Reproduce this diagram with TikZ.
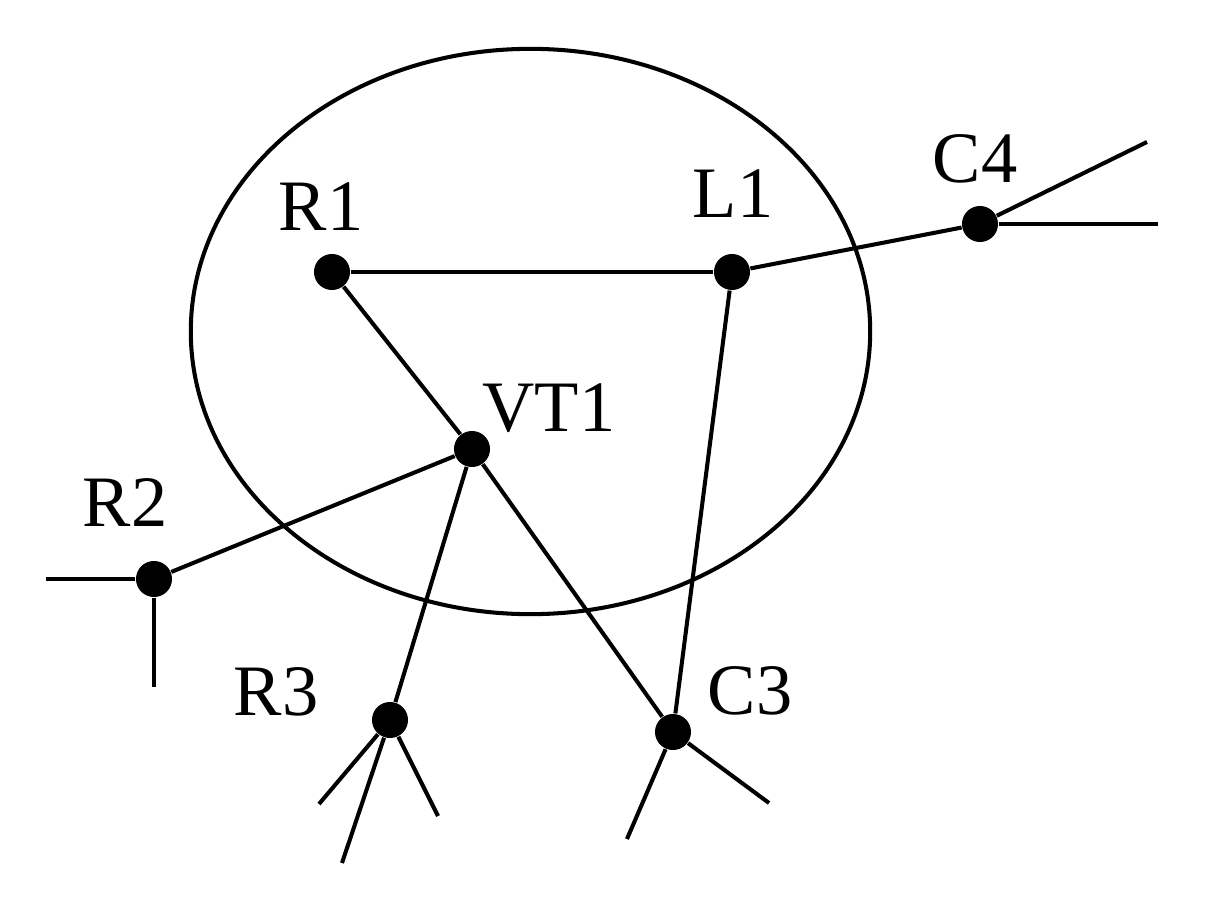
\documentclass[tikz,border=0pt]{standalone}
\usepackage{fontspec}
\setmainfont{Liberation Serif}
\begin{document}
\begin{tikzpicture}[x=0.01cm,y=-0.01cm,
        dot/.style={circle,fill=black,inner sep=0pt,minimum size=0.36cm},
        lab/.style={inner sep=0pt,font=\fontsize{20.6}{24}\selectfont},
        wire/.style={line width=1.15pt,black}]
        \useasboundingbox (0,0) rectangle (1205,909);

        % ring
        \draw[wire] (530.5,331.5) ellipse [x radius=3.395cm, y radius=2.825cm];

        % points
        \node[dot] (r1) at (332,272) {};
        \node[dot] (l1) at (732,272) {};
        \node[dot] (c4) at (980,224) {};
        \node[dot] (vt1) at (472,449) {};
        \node[dot] (r2) at (154,579) {};
        \node[dot] (r3) at (390,720) {};
        \node[dot] (c3) at (673,732) {};

        % labels
        \node[lab] (r1lab) at (321,207) {R1};
        \node[lab] (l1lab) at (733,194) {L1};
        \node[lab] (c4lab) at (975,159) {C4};
        \node[lab] (vt1lab) at (549,408) {VT1};
        \node[lab] (r2lab) at (125,503) {R2};
        \node[lab] (r3lab) at (276,692) {R3};
        \node[lab] (c3lab) at (750,691) {C3};

        % loose ends
        \coordinate (c4a) at (1147,142);
        \coordinate (c4b) at (1158,224);
        \coordinate (r2a) at (46,579);
        \coordinate (r2b) at (154,687);
        \coordinate (r3a) at (319,804);
        \coordinate (r3b) at (342,863);
        \coordinate (r3c) at (438,816);
        \coordinate (c3a) at (627,839);
        \coordinate (c3b) at (769,803);

        % links
        \draw[wire] (r1) -- (l1);
        \draw[wire] (r1) -- (vt1);
        \draw[wire] (l1) -- (c4);
        \draw[wire] (l1) -- (c3);
        \draw[wire] (vt1) -- (r2);
        \draw[wire] (vt1) -- (r3);
        \draw[wire] (vt1) -- (c3);
        \draw[wire] (c4) -- (c4a);
        \draw[wire] (c4) -- (c4b);
        \draw[wire] (r2) -- (r2a);
        \draw[wire] (r2) -- (r2b);
        \draw[wire] (r3) -- (r3a);
        \draw[wire] (r3) -- (r3b);
        \draw[wire] (r3) -- (r3c);
        \draw[wire] (c3) -- (c3a);
        \draw[wire] (c3) -- (c3b);
    \end{tikzpicture}
\end{document}
